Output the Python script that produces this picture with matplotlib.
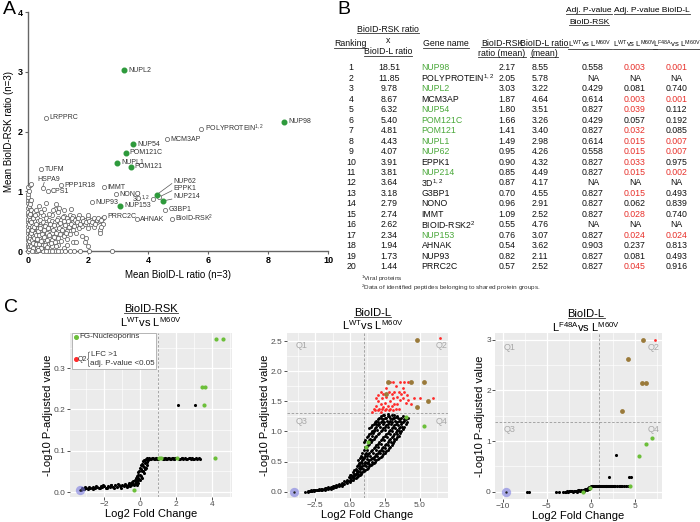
import matplotlib.pyplot as plt
from matplotlib.lines import Line2D
from matplotlib.patches import Rectangle

plt.rcParams['font.family'] = ['Liberation Sans', 'DejaVu Sans']
plt.rcParams['mathtext.fontset'] = 'custom'
plt.rcParams['mathtext.rm'] = 'Liberation Sans'
plt.rcParams['mathtext.it'] = 'Liberation Sans:italic'
plt.rcParams['mathtext.bf'] = 'Liberation Sans:bold'

NARROW = ['Liberation Sans Narrow', 'Liberation Sans', 'DejaVu Sans']

# ---------------- Panel A data ----------------
cloud = [
    (0.02, 0.0), (0.02, 0.06), (0.02, 0.12), (0.02, 0.18), (0.02, 0.24), (0.02, 0.3), (0.02, 0.36),
    (0.02, 0.42), (0.02, 0.48), (0.02, 0.54), (0.02, 0.6), (0.02, 0.66), (0.02, 0.72), (0.02, 0.8),
    (0.02, 0.86), (0.02, 0.9), (0.02, 1.08),
    (0.06, 0.03), (0.06, 0.1), (0.06, 0.2), (0.06, 0.3), (0.06, 0.4), (0.06, 0.5), (0.06, 0.62),
    (0.06, 0.7), (0.06, 0.83), (0.06, 1.1),
    (0.1, 0.05), (0.1, 0.15), (0.1, 0.25), (0.1, 0.35), (0.1, 0.45), (0.1, 0.55), (0.1, 0.68), (0.12, 1.12),
    (0.15, 0.02), (0.15, 0.12), (0.15, 0.22), (0.15, 0.32), (0.15, 0.42), (0.15, 0.52), (0.15, 0.6),
    (0.2, 0.07), (0.2, 0.17), (0.2, 0.27), (0.2, 0.37), (0.2, 0.47), (0.2, 0.58), (0.2, 0.66),
    (0.25, 0.0), (0.25, 0.1), (0.25, 0.2), (0.25, 0.3), (0.25, 0.4), (0.25, 0.5),
    (0.3, 0.05), (0.3, 0.15), (0.3, 0.25), (0.3, 0.35), (0.3, 0.45), (0.3, 0.55), (0.3, 0.62),
    (0.35, 0.08), (0.35, 0.18), (0.35, 0.28), (0.35, 0.38), (0.35, 0.5), (0.38, 0.75),
    (0.4, 0.02), (0.4, 0.12), (0.4, 0.22), (0.4, 0.32), (0.4, 0.42), (0.4, 0.52),
    (0.5, 0.0), (0.5, 0.1), (0.5, 0.2), (0.5, 0.3), (0.5, 0.4), (0.5, 0.48), (0.5, 0.6),
    (0.6, 0.05), (0.6, 0.15), (0.6, 0.25), (0.6, 0.35), (0.6, 0.45), (0.6, 0.55), (0.62, 0.8),
    (0.7, 0.0), (0.7, 0.12), (0.7, 0.22), (0.7, 0.32), (0.7, 0.42), (0.7, 0.52),
    (0.8, 0.08), (0.8, 0.18), (0.8, 0.3), (0.8, 0.4), (0.8, 0.5), (0.8, 0.6),
    (0.9, 0.0), (0.9, 0.15), (0.9, 0.25), (0.9, 0.38), (0.9, 0.48), (0.9, 0.7), (0.95, 0.78),
    (1.0, 0.1), (1.0, 0.22), (1.0, 0.34), (1.0, 0.44), (1.0, 0.56), (1.0, 0.65),
    (1.1, 0.0), (1.1, 0.16), (1.1, 0.3), (1.1, 0.42), (1.1, 0.52),
    (1.2, 0.05), (1.2, 0.25), (1.2, 0.38), (1.2, 0.5), (1.2, 0.58),
    (1.3, 0.2), (1.3, 0.33), (1.3, 0.45), (1.3, 0.55),
    (1.4, 0.0), (1.4, 0.28), (1.4, 0.4), (1.4, 0.52), (1.4, 0.6), (1.45, 0.7),
    (1.5, 0.15), (1.5, 0.36), (1.5, 0.48), (1.5, 0.58),
    (1.6, 0.3), (1.6, 0.44), (1.6, 0.54),
    (1.75, 0.0), (1.7, 0.38), (1.7, 0.5), (1.7, 0.6),
    (1.8, 0.25), (1.8, 0.42), (1.8, 0.55),
    (1.9, 0.15), (1.9, 0.45), (1.9, 0.52),
    (2.05, 0.0), (2.0, 0.08), (2.0, 0.38), (2.0, 0.55), (2.0, 0.6),
    (2.1, 0.45), (2.1, 0.52), (2.2, 0.4), (2.2, 0.55), (2.3, 0.48), (2.3, 0.52),
    (2.4, 0.35), (2.4, 0.5), (2.5, 0.45), (2.5, 0.55), (2.8, 0.0),
    (0.03, 0.03), (0.05, 0.08), (0.08, 0.12), (0.04, 0.16), (0.12, 0.09), (0.09, 0.21), (0.13, 0.18),
    (0.07, 0.27), (0.16, 0.25), (0.11, 0.31), (0.18, 0.14), (0.21, 0.22), (0.14, 0.36), (0.23, 0.31),
    (0.17, 0.05), (0.26, 0.12), (0.28, 0.27), (0.22, 0.4), (0.31, 0.2), (0.33, 0.33), (0.27, 0.45),
    (0.36, 0.11), (0.38, 0.26), (0.42, 0.38), (0.45, 0.17), (0.44, 0.05), (0.47, 0.29), (0.53, 0.35),
    (0.55, 0.24), (0.58, 0.42), (0.56, 0.1), (0.63, 0.3), (0.65, 0.19), (0.68, 0.38), (0.72, 0.27),
    (0.75, 0.45), (0.77, 0.14), (0.83, 0.35), (0.86, 0.24), (0.88, 0.44), (0.93, 0.3), (0.97, 0.52),
    (1.03, 0.38), (1.06, 0.28), (1.08, 0.47), (1.15, 0.35), (1.17, 0.57), (1.23, 0.44), (1.27, 0.3),
    (1.33, 0.5), (1.36, 0.4), (1.44, 0.45), (1.47, 0.55), (1.55, 0.42), (1.57, 0.52), (1.65, 0.48),
    (1.68, 0.56), (1.75, 0.45), (1.85, 0.5), (1.95, 0.48), (2.05, 0.5), (2.15, 0.48), (2.25, 0.45),
    (2.35, 0.55), (2.45, 0.52), (0.04, 0.45), (0.08, 0.52), (0.05, 0.58), (0.09, 0.62), (0.12, 0.48),
    (0.03, 0.75), (0.07, 0.78), (0.1, 0.85), (0.19, 0.55), (0.24, 0.6), (0.29, 0.68), (0.45, 0.65),
    (0.55, 0.7), (0.7, 0.62), (0.85, 0.68), (1.05, 0.72), (1.2, 0.68), (0.02, 0.95), (0.05, 1.0),
    (0.3, 0.0), (0.6, 0.0), (0.8, 0.0), (1.0, 0.0), (1.25, 0.0), (1.55, 0.0), (0.15, 0.0),
    (0.35, 0.02), (0.65, 0.06), (0.95, 0.08), (1.3, 0.1), (1.6, 0.15), (1.95, 0.22), (2.4, 0.3),
    (2.45, 0.4),
]

open_names = ["LRPPRC", "POLYPROTEIN$^{1,2}$", "MCM3AP", "TUFM", "PPP1R18", "CPS1", "IMMT",
              "NONO", "NUP93", "G3BP1", "PRRC2C", "AHNAK", "BioID-RSK$^{2}$"]
open_x = [0.6, 5.78, 4.64, 0.44, 1.11, 0.66, 2.54, 2.93, 2.13, 4.58, 2.54, 3.63, 4.80]
open_y = [2.23, 2.05, 1.87, 1.37, 1.10, 1.00, 1.07, 0.955, 0.82, 0.69, 0.57, 0.53, 0.54]

green_names = ["NUPL2", "NUP98", "NUP54", "POM121C", "NUPL1", "POM121", "NUP153"]
green_x = [3.22, 8.55, 3.52, 3.28, 2.99, 3.43, 3.09]
green_y = [3.03, 2.17, 1.79, 1.65, 1.48, 1.41, 0.76]

# points with labels connected by a line
lead_names = ["NUP62", "EPPK1", "NUP214"]
lead_x = [4.30, 4.36, 4.52]
lead_y = [0.945, 0.90, 0.84]
lead_green = [True, False, True]

# ---------------- Panel B data ----------------
ranking = list(range(1, 21))
product = ["18.51", "11.85", "9.78", "8.67", "6.32", "5.40", "4.81", "4.43", "4.07", "3.91",
           "3.81", "3.64", "3.18", "2.79", "2.74", "2.62", "2.34", "1.94", "1.73", "1.44"]
genes = ["NUP98", "POLYPROTEIN$^{1,2}$", "NUPL2", "MCM3AP", "NUP54", "POM121C", "POM121", "NUPL1",
         "NUP62", "EPPK1", "NUP214", "3D$^{1,2}$", "G3BP1", "NONO", "IMMT", "BIOID-RSK2$^{2}$",
         "NUP153", "AHNAK", "NUP93", "PRRC2C"]
fg_nups = {"NUP98", "NUPL2", "NUP54", "POM121C", "POM121", "NUPL1", "NUP62", "NUP214", "NUP153"}
rsk_mean = ["2.17", "2.05", "3.03", "1.87", "1.80", "1.66", "1.41", "1.49", "0.95", "0.90",
            "0.85", "0.87", "0.70", "0.96", "1.09", "0.55", "0.76", "0.54", "0.82", "0.57"]
l_mean = ["8.55", "5.78", "3.22", "4.64", "3.51", "3.26", "3.40", "2.98", "4.26", "4.32",
          "4.49", "4.17", "4.55", "2.91", "2.52", "4.76", "3.07", "3.62", "2.11", "2.52"]
p_rsk = ["0.558", "NA", "0.429", "0.614", "0.827", "0.429", "0.827", "0.614", "0.558", "0.827",
         "0.827", "NA", "0.827", "0.827", "0.827", "NA", "0.827", "0.903", "0.827", "0.827"]
p_lwt = ["0.003", "NA", "0.081", "0.003", "0.039", "0.057", "0.032", "0.015", "0.015", "0.033",
         "0.015", "NA", "0.015", "0.062", "0.028", "NA", "0.024", "0.237", "0.081", "0.045"]
p_f48a = ["0.001", "NA", "0.740", "0.001", "0.112", "0.192", "0.085", "0.007", "0.007", "0.975",
          "0.002", "NA", "0.493", "0.839", "0.740", "NA", "0.024", "0.813", "0.493", "0.916"]

# ---------------- Panel C data ----------------
c1_black = [
    (-3.3, 0.006), (-3.2, 0.008), (-3.1, 0.007), (-3.0, 0.010), (-2.9, 0.008), (-2.8, 0.011),
    (-2.7, 0.009), (-2.6, 0.012), (-2.5, 0.010), (-2.4, 0.013), (-2.3, 0.011), (-2.2, 0.014),
    (-2.1, 0.012), (-2.0, 0.014), (-1.9, 0.011), (-1.8, 0.015), (-1.7, 0.012), (-1.6, 0.016),
    (-1.5, 0.013), (-1.4, 0.016), (-1.3, 0.012), (-1.2, 0.017), (-1.1, 0.014), (-1.0, 0.017),
    (-0.9, 0.015), (-0.8, 0.018), (-0.7, 0.015), (-0.6, 0.019), (-0.5, 0.017), (-0.5, 0.022),
    (-0.4, 0.020), (-0.4, 0.026), (-0.3, 0.020), (-0.3, 0.028), (-0.2, 0.018), (-0.2, 0.030),
    (-0.2, 0.040), (-0.1, 0.022), (-0.1, 0.035), (-0.1, 0.048), (0.0, 0.028), (0.0, 0.042),
    (0.0, 0.058), (0.05, 0.065), (0.1, 0.035), (0.1, 0.05), (0.1, 0.068), (0.15, 0.075),
    (0.2, 0.045), (0.2, 0.06), (0.2, 0.078), (0.25, 0.07), (0.3, 0.058), (0.3, 0.08),
    (0.35, 0.072), (0.4, 0.08), (0.45, 0.078), (0.5, 0.082), (0.6, 0.08), (0.7, 0.082),
    (0.8, 0.08), (0.9, 0.082), (1.0, 0.079), (1.2, 0.082), (1.3, 0.08), (1.4, 0.082),
    (1.5, 0.08), (1.6, 0.082), (1.7, 0.08), (1.8, 0.082), (1.9, 0.08), (2.0, 0.082),
    (2.2, 0.08), (2.3, 0.082), (2.4, 0.08), (2.5, 0.082), (2.6, 0.08), (2.7, 0.082),
    (2.8, 0.08), (2.9, 0.082), (3.0, 0.08), (3.1, 0.082), (3.3, 0.081),
    (2.1, 0.212), (3.05, 0.212),
    (-3.25, 0.01), (-3.05, 0.012), (-2.85, 0.013), (-2.65, 0.008), (-2.45, 0.015), (-2.25, 0.009),
    (-2.05, 0.016), (-1.85, 0.01), (-1.65, 0.018), (-1.45, 0.01), (-1.25, 0.019), (-1.05, 0.011),
    (-0.85, 0.02), (-0.75, 0.012), (-0.65, 0.022), (-0.55, 0.014), (-0.45, 0.024), (-0.35, 0.017),
    (-0.25, 0.024), (-0.25, 0.034), (-0.15, 0.028), (-0.15, 0.042), (-0.05, 0.032), (-0.05, 0.052),
    (0.05, 0.04), (0.05, 0.055), (0.15, 0.05), (0.15, 0.064), (0.25, 0.055), (0.25, 0.078),
    (0.35, 0.066), (0.38, 0.082), (0.55, 0.079), (0.65, 0.083), (0.75, 0.079), (0.85, 0.083),
    (0.95, 0.081), (1.25, 0.079), (1.35, 0.083), (1.45, 0.079), (1.55, 0.083), (1.65, 0.079),
    (1.75, 0.083), (1.85, 0.079), (1.95, 0.083), (2.15, 0.079), (2.35, 0.083), (2.55, 0.079),
    (2.75, 0.083), (2.95, 0.079), (3.15, 0.08), (3.25, 0.083),
]
c1_green = [(4.2, 0.37), (4.6, 0.37), (3.42, 0.255), (3.58, 0.255), (3.55, 0.212),
            (4.15, 0.082), (2.05, 0.082), (1.15, 0.082), (1.05, 0.082), (-0.35, 0.005)]
c1_blue = (-3.35, 0.004)

c2_black = [
    (-3.2, 0.0), (-3.0, 0.0), (-3.0, 0.01), (-2.8, 0.01), (-2.8, 0.02), (-2.6, 0.01), (-2.6, 0.03),
    (-2.4, 0.02), (-2.4, 0.03), (-2.2, 0.02), (-2.2, 0.04), (-2.0, 0.03), (-2.0, 0.05),
    (-1.8, 0.03), (-1.8, 0.06), (-1.6, 0.04), (-1.6, 0.07), (-1.4, 0.05), (-1.4, 0.08),
    (-1.2, 0.06), (-1.2, 0.10), (-1.0, 0.07), (-1.0, 0.11), (-0.8, 0.09), (-0.8, 0.13),
    (-0.6, 0.10), (-0.6, 0.15), (-0.4, 0.12), (-0.4, 0.18), (-0.2, 0.14), (-0.2, 0.20),
    (0.0, 0.16), (0.0, 0.22), (0.0, 0.28), (0.2, 0.19), (0.2, 0.26), (0.2, 0.33),
    (0.4, 0.22), (0.4, 0.30), (0.4, 0.38), (0.6, 0.26), (0.6, 0.34), (0.6, 0.44), (0.6, 0.52),
    (0.8, 0.30), (0.8, 0.40), (0.8, 0.50), (0.8, 0.60),
    (1.0, 0.34), (1.0, 0.44), (1.0, 0.56), (1.0, 0.70), (1.0, 0.82),
    (1.2, 0.38), (1.2, 0.48), (1.2, 0.60), (1.2, 0.76), (1.2, 0.90),
    (1.4, 0.42), (1.4, 0.52), (1.4, 0.64), (1.4, 0.80), (1.4, 0.95), (1.4, 1.05),
    (1.6, 0.46), (1.6, 0.56), (1.6, 0.70), (1.6, 0.85), (1.6, 1.00), (1.6, 1.10),
    (1.8, 0.50), (1.8, 0.60), (1.8, 0.75), (1.8, 0.90), (1.8, 1.05), (1.8, 1.15),
    (2.0, 0.54), (2.0, 0.65), (2.0, 0.80), (2.0, 0.95), (2.0, 1.10), (2.0, 1.20),
    (2.2, 0.58), (2.2, 0.70), (2.2, 0.85), (2.2, 1.00), (2.2, 1.15), (2.2, 1.25),
    (2.4, 0.63), (2.4, 0.75), (2.4, 0.90), (2.4, 1.05), (2.4, 1.20), (2.4, 1.27),
    (2.6, 0.68), (2.6, 0.80), (2.6, 0.95), (2.6, 1.10), (2.6, 1.22),
    (2.8, 0.73), (2.8, 0.85), (2.8, 1.00), (2.8, 1.15), (2.8, 1.25),
    (3.0, 0.78), (3.0, 0.90), (3.0, 1.05), (3.0, 1.20), (3.0, 1.27),
    (3.2, 0.84), (3.2, 0.96), (3.2, 1.10), (3.2, 1.22),
    (3.4, 0.90), (3.4, 1.02), (3.4, 1.15), (3.4, 1.25),
    (3.6, 0.97), (3.6, 1.08), (3.6, 1.20), (3.8, 1.04), (3.8, 1.15), (3.8, 1.25),
    (4.0, 1.12), (4.0, 1.20),
    (-2.9, 0.005), (-2.7, 0.015), (-2.5, 0.02), (-2.3, 0.03), (-2.1, 0.035), (-1.9, 0.045),
    (-1.7, 0.05), (-1.5, 0.06), (-1.3, 0.075), (-1.1, 0.085), (-0.9, 0.1), (-0.7, 0.115),
    (-0.5, 0.135), (-0.3, 0.16), (-0.1, 0.18), (-0.1, 0.24), (0.1, 0.2), (0.1, 0.27),
    (0.3, 0.22), (0.3, 0.3), (0.3, 0.36), (0.5, 0.25), (0.5, 0.33), (0.5, 0.42),
    (0.7, 0.28), (0.7, 0.37), (0.7, 0.47), (0.7, 0.56), (0.9, 0.32), (0.9, 0.42), (0.9, 0.53),
    (0.9, 0.65), (1.1, 0.36), (1.1, 0.47), (1.1, 0.6), (1.1, 0.74), (1.1, 0.86),
    (1.3, 0.4), (1.3, 0.5), (1.3, 0.63), (1.3, 0.78), (1.3, 0.93),
    (1.5, 0.44), (1.5, 0.55), (1.5, 0.68), (1.5, 0.83), (1.5, 0.98), (1.5, 1.08),
    (1.7, 0.48), (1.7, 0.58), (1.7, 0.72), (1.7, 0.88), (1.7, 1.03), (1.7, 1.12),
    (1.9, 0.52), (1.9, 0.63), (1.9, 0.78), (1.9, 0.93), (1.9, 1.08), (1.9, 1.18),
    (2.1, 0.56), (2.1, 0.68), (2.1, 0.83), (2.1, 0.98), (2.1, 1.13), (2.1, 1.22),
    (2.3, 0.6), (2.3, 0.72), (2.3, 0.88), (2.3, 1.03), (2.3, 1.18),
    (2.5, 0.65), (2.5, 0.78), (2.5, 0.93), (2.5, 1.08), (2.5, 1.23),
    (2.7, 0.7), (2.7, 0.83), (2.7, 0.98), (2.7, 1.13), (2.7, 1.26),
    (2.9, 0.75), (2.9, 0.88), (2.9, 1.03), (2.9, 1.18), (3.1, 0.81), (3.1, 0.93), (3.1, 1.08),
    (3.1, 1.22), (3.3, 0.87), (3.3, 0.99), (3.3, 1.12), (3.3, 1.24), (3.5, 0.93), (3.5, 1.05),
    (3.5, 1.18), (3.7, 1.0), (3.7, 1.12), (3.7, 1.22), (3.9, 1.08), (3.9, 1.18),
    (0.55, 0.3), (0.65, 0.4), (0.75, 0.33), (0.85, 0.47), (0.95, 0.38), (1.05, 0.5), (1.15, 0.42),
    (1.25, 0.55), (1.35, 0.46), (1.45, 0.6), (1.55, 0.5), (1.65, 0.65), (1.75, 0.55), (1.85, 0.7),
    (1.95, 0.6), (2.05, 0.75), (2.15, 0.64), (2.25, 0.8), (2.35, 0.68), (2.45, 0.85), (2.55, 0.72),
    (2.65, 0.9), (2.75, 0.78), (2.85, 0.95), (2.95, 0.82), (3.05, 1.0), (3.15, 0.88), (3.25, 1.05),
    (3.35, 0.95), (3.45, 1.1), (3.55, 1.0), (3.65, 1.15), (3.75, 1.08), (3.85, 1.2), (4.1, 1.16),
    (4.2, 1.22), (1.45, 0.88), (1.55, 0.93), (1.65, 0.97), (1.75, 1.0), (1.85, 1.12), (1.95, 1.02),
    (2.05, 1.15), (2.15, 1.08), (2.25, 1.22), (2.35, 1.12), (2.45, 1.16), (2.55, 1.02), (2.65, 1.18),
    (2.75, 1.08), (2.85, 1.22), (2.95, 1.12), (3.05, 1.15), (3.15, 1.27), (3.25, 1.18), (3.45, 1.22),
    (2.45, 1.28), (2.75, 1.29), (1.25, 0.7), (1.35, 0.85), (1.15, 0.65), (1.05, 0.62), (0.95, 0.55),
    (0.85, 0.58), (0.75, 0.42), (0.65, 0.48), (-2.95, 0.005), (-2.65, 0.02), (-2.35, 0.025),
    (-2.05, 0.04), (-1.75, 0.055), (-1.45, 0.065), (-1.15, 0.09), (-0.85, 0.11), (-0.55, 0.125),
    (-0.25, 0.17), (0.05, 0.19), (0.15, 0.24), (0.25, 0.25), (0.35, 0.27), (0.45, 0.3), (0.45, 0.36),
]
c2_red = [
    (1.6, 1.33), (1.7, 1.38), (1.8, 1.35), (1.9, 1.42), (2.0, 1.36), (2.0, 1.50), (2.1, 1.38),
    (2.2, 1.45), (2.2, 1.33), (2.3, 1.55), (2.3, 1.38), (2.4, 1.40), (2.4, 1.62), (2.5, 1.35),
    (2.5, 1.48), (2.6, 1.58), (2.6, 1.38), (2.7, 1.43), (2.8, 1.36), (2.8, 1.65), (2.9, 1.50),
    (2.9, 1.38), (3.0, 1.42), (3.0, 1.62), (3.1, 1.55), (3.1, 1.36), (3.2, 1.45), (3.2, 1.65),
    (3.3, 1.38), (3.4, 1.58), (3.4, 1.45), (3.5, 1.65), (3.5, 1.38), (3.6, 1.52), (3.7, 1.62),
    (3.8, 1.55), (3.9, 1.65), (4.0, 1.48), (4.1, 1.60), (4.2, 1.52), (4.4, 1.45), (4.6, 1.55),
    (5.0, 1.55), (6.0, 1.56), (6.5, 2.55), (2.9, 1.82), (3.1, 1.82), (3.6, 1.82), (3.9, 1.82),
    (4.2, 1.82), (2.0, 1.60), (1.9, 1.55), (2.6, 1.72), (3.3, 1.75), (3.8, 1.72), (2.2, 1.65),
]
c2_olive = [(4.8, 2.52), (2.7, 1.82), (4.4, 1.82), (5.3, 1.82), (2.6, 1.62), (5.6, 1.50), (4.8, 1.41)]
c2_green = [(4.0, 1.24), (5.3, 1.09), (1.3, 0.82), (1.15, 0.75)]
c2_blue = (-4.0, 0.0)

c3_black = [
    (-7.3, 0.0), (-7.0, 0.0), (-3.9, 0.0), (-3.6, 0.0), (-3.1, 0.0), (-2.9, 0.0), (-2.7, 0.005),
    (-2.5, 0.005), (-2.3, 0.01), (-2.1, 0.01), (-1.9, 0.015), (-1.7, 0.02), (-1.5, 0.025),
    (-1.3, 0.03), (-1.1, 0.035), (-0.9, 0.04), (-0.7, 0.05), (-0.5, 0.06), (-0.3, 0.08),
    (-0.1, 0.10), (-2.0, -0.005), (-1.6, 0.0), (-1.2, 0.005), (-0.8, 0.015), (-0.4, 0.03),
    (-0.2, 0.06), (0.1, 0.12), (0.3, 0.12), (0.5, 0.12), (0.7, 0.12), (0.9, 0.12), (1.1, 0.12),
    (1.3, 0.12), (1.5, 0.12), (1.7, 0.12), (1.9, 0.12), (2.1, 0.12), (2.3, 0.12), (2.5, 0.12),
    (2.7, 0.12), (3.0, 0.12), (3.3, 0.12), (3.6, 0.12), (4.0, 0.12),
    (2.9, 0.72), (2.1, 0.29), (4.4, 0.29), (4.6, 0.29),
    (-2.8, 0.0), (-2.6, 0.0), (-2.4, 0.005), (-2.2, 0.005), (-1.8, 0.01), (-1.4, 0.015),
    (-1.0, 0.02), (-0.6, 0.035), (-0.2, 0.085), (0.0, 0.11), (0.2, 0.12), (0.4, 0.12),
    (0.6, 0.12), (0.8, 0.12), (1.0, 0.12), (1.2, 0.12), (1.4, 0.12), (1.6, 0.12), (1.8, 0.12),
    (2.0, 0.12), (2.2, 0.12), (2.4, 0.12), (2.6, 0.12), (2.8, 0.12), (3.2, 0.12), (3.5, 0.12),
    (3.8, 0.12), (4.2, 0.12),
]
c3_olive = [(6.0, 3.0), (4.2, 2.62), (5.9, 2.15), (6.3, 2.15), (3.6, 1.6)]
c3_red = [(7.3, 3.0)]
c3_green = [(7.0, 1.07), (6.3, 0.95), (5.5, 0.71), (4.5, 0.11), (-0.1, 0.07), (-0.85, 0.0)]
c3_blue = (-9.7, 0.0)

W, H = 700, 522
fig = plt.figure(figsize=(7, 5.22), dpi=100)
underlined = []


def box(l, t, r, b):
    return fig.add_axes([l / W, 1 - b / H, (r - l) / W, (b - t) / H])


def ftext(x, y, s, **kw):
    kw.setdefault('va', 'center')
    return fig.text(x / W, 1 - y / H, s, **kw)


GREEN_A = '#2e9a3c'
GREEN_T = '#4aa83a'
RED_T = '#e8302a'

# ================= Panel A =================
ax = box(27.7, 12.3, 328, 251)
ax.set_xlim(0, 10)
ax.set_ylim(0, 4)
for s in ['top', 'right']:
    ax.spines[s].set_visible(False)
for s in ['left', 'bottom']:
    ax.spines[s].set_color('#666666')
    ax.spines[s].set_linewidth(1.0)
ax.set_xticks([0, 2, 4, 6, 8, 10])
ax.set_yticks([0, 1, 2, 3, 4])
ax.tick_params(length=2.5, width=0.8, color='#666666', pad=1, labelsize=6.5)
for lab in ax.get_xticklabels() + ax.get_yticklabels():
    lab.set_fontweight('bold')
ax.set_xlabel('Mean BioID-L ratio (n=3)', fontsize=7, labelpad=4)
ax.set_ylabel('Mean BioID-RSK ratio (n=3)', fontsize=7, labelpad=3)

cx = [p[0] for p in cloud]
cy = [p[1] for p in cloud]
ax.scatter(cx, cy, s=9, facecolors='white', edgecolors='#555555', linewidths=0.5, clip_on=False, zorder=3)
ax.scatter(open_x, open_y, s=9, facecolors='white', edgecolors='#555555', linewidths=0.5, zorder=3)
ax.scatter(green_x, green_y, s=11, color=GREEN_A, zorder=4)
ax.scatter([x for x, g in zip(lead_x, lead_green) if g], [y for y, g in zip(lead_y, lead_green) if g],
           s=11, color=GREEN_A, zorder=4)
ax.scatter([x for x, g in zip(lead_x, lead_green) if not g], [y for y, g in zip(lead_y, lead_green) if not g],
           s=9, facecolors='white', edgecolors='#555555', linewidths=0.5, zorder=3)
ax.scatter([4.18, 0.5], [0.866, 1.06], s=9, facecolors='white', edgecolors='#555555', linewidths=0.5, zorder=3)

lab_kw = dict(fontsize=5, color='#333333', va='center', ha='left')
for n, x, y in zip(open_names + green_names, open_x + green_x, open_y + green_y):
    ax.text(x + 0.12, y, n, **lab_kw)
ax.text(4.08, 0.87, '3D$^{1,2}$', fontsize=5, color='#333333', va='center', ha='right')
ax.text(0.33, 1.2, 'HSPA9', **lab_kw)
ax.plot([0.55, 0.5], [1.15, 1.07], color='#555555', lw=0.5)
lead_tx = [4.85, 4.85, 4.85]
lead_ty = [1.17, 1.05, 0.91]
for n, x, y, tx, ty in zip(lead_names, lead_x, lead_y, lead_tx, lead_ty):
    ax.plot([x, tx - 0.05], [y, ty - 0.04], color='#555555', lw=0.5, zorder=2)
    ax.text(tx, ty, n, **lab_kw)

ftext(3, 9, 'A', fontsize=14)
ftext(337, 10, 'B', fontsize=14)
ftext(4, 307, 'C', fontsize=14)

# ================= Panel B (table) =================
tf = dict(fontsize=6.3, family=NARROW, ha='center', color='#111111')
hf = dict(fontsize=5.6, family=NARROW, ha='center', color='#111111')
underlined.append(ftext(388, 29, 'BioID-RSK ratio', **tf))
ftext(388, 40.5, 'x', **tf)
underlined.append(ftext(388, 52, 'BioID-L ratio', **tf))
underlined.append(ftext(350, 44, 'Ranking', **tf))
underlined.append(ftext(446, 44, 'Gene name', **tf))
underlined.append(ftext(502, 43, 'BioID-RSK', **tf))
underlined.append(ftext(502, 53, 'ratio (mean)', **tf))
underlined.append(ftext(544, 43, 'BioID-L ratio', **tf))
underlined.append(ftext(544, 53, '(mean)', **tf))
underlined.append(ftext(589, 11, 'Adj. P-value', fontsize=6, family=NARROW, ha='center'))
underlined.append(ftext(589, 22, 'BioID-RSK', fontsize=6, family=NARROW, ha='center'))
underlined.append(ftext(652, 11, 'Adj. P-value BioID-L', fontsize=6, family=NARROW, ha='center'))
underlined.append(ftext(590, 44, r'L$^{\mathrm{WT}}$vs L$^{\mathrm{M60V}}$', **hf))
underlined.append(ftext(635, 44, r'L$^{\mathrm{WT}}$vs L$^{\mathrm{M60V}}$', **hf))
underlined.append(ftext(677, 44, r'L$^{\mathrm{F48A}}$vs L$^{\mathrm{M60V}}$', **hf))

row0, dy = 67.9, 10.46


def pcol(v):
    return RED_T if v != 'NA' and float(v) < 0.05 else '#111111'


for i in range(20):
    y = row0 + i * dy
    ftext(351, y, str(ranking[i]), **tf)
    ftext(389, y, product[i], **tf)
    g = genes[i]
    ftext(421.5, y, g, fontsize=6.3, family=NARROW, ha='left',
          color=GREEN_T if g in fg_nups else '#111111')
    ftext(507, y, rsk_mean[i], **tf)
    ftext(540, y, l_mean[i], **tf)
    ftext(593, y, p_rsk[i], fontsize=6.3, family=NARROW, ha='center', color=pcol(p_rsk[i]))
    ftext(635, y, p_lwt[i], fontsize=6.3, family=NARROW, ha='center', color=pcol(p_lwt[i]))
    ftext(676.5, y, p_f48a[i], fontsize=6.3, family=NARROW, ha='center', color=pcol(p_f48a[i]))

ftext(361, 278.5, '$^{1}$Viral proteins', fontsize=4.6, color='#333333', ha='left')
ftext(361, 287.5, '$^{2}$Data of identified peptides belonging to shared protein groups.',
      fontsize=4.6, color='#333333', ha='left')


# ================= Panel C =================
def volcano(rect, xlim, ylim, xmaj, xmin, ymaj, ymin, yfmt, hline):
    a = box(*rect)
    a.set_facecolor('#ebebeb')
    a.set_xlim(*xlim)
    a.set_ylim(*ylim)
    a.set_xticks(xmaj)
    a.set_xticks(xmin, minor=True)
    a.set_yticks(ymaj)
    a.set_yticks(ymin, minor=True)
    a.set_yticklabels([yfmt.format(v) for v in ymaj])
    a.grid(which='major', color='white', lw=0.9)
    a.grid(which='minor', color='white', lw=0.45)
    a.set_axisbelow(True)
    for s in a.spines.values():
        s.set_visible(False)
    a.tick_params(which='major', length=2, width=0.6, color='#333333', labelsize=6, labelcolor='#4d4d4d', pad=1)
    a.tick_params(which='minor', length=0)
    a.axvline(1, color='#999999', lw=0.6, ls=(0, (3, 2)), zorder=1.5)
    if hline is not None:
        a.axhline(hline, color='#999999', lw=0.6, ls=(0, (3, 2)), zorder=1.5)
    a.set_xlabel('Log2 Fold Change', fontsize=8, labelpad=0.5)
    a.set_ylabel('-Log10 P-adjusted value', fontsize=8, labelpad=0.5)
    return a


def pts(a, data, **kw):
    a.scatter([p[0] for p in data], [p[1] for p in data], linewidths=0, **kw)


def blue(a, p):
    a.scatter([p[0]], [p[1]], s=45, color='#7b7be0', alpha=0.6, linewidths=0, zorder=5, clip_on=False)
    a.scatter([p[0]], [p[1]], s=3, color='#222222', linewidths=0, zorder=6, clip_on=False)


GREEN_C = '#6cbf3a'
OLIVE_C = '#9a7a3a'
RED_C = '#ff2a2a'

# C1
a1 = volcano((70, 332.7, 232, 497), (-3.9, 5.1), (-0.012, 0.386), [-2, 0, 2, 4], [-3, -1, 1, 3, 5],
             [0, 0.1, 0.2, 0.3], [0.05, 0.15, 0.25, 0.35], '{:.1f}', None)
pts(a1, c1_black, s=5, color='black', zorder=3)
pts(a1, c1_green, s=9, color=GREEN_C, zorder=4)
blue(a1, c1_blue)
underlined.append(ftext(151, 309, 'BioID-RSK', fontsize=8, ha='center'))
ftext(151, 322, r'L$^{\mathrm{WT}}$vs L$^{\mathrm{M60V}}$', fontsize=8, ha='center')

# legend of C1
fig.add_artist(Rectangle((72 / W, 1 - 368.5 / H), 84 / W, 36 / H, transform=fig.transFigure,
                         facecolor='white', edgecolor='#aaaaaa', lw=0.6, zorder=7))
fig.add_artist(Line2D([75.7 / W], [1 - 336.7 / H], marker='o', ms=2.6, color=GREEN_C, lw=0, zorder=8))
ftext(79.5, 337, 'FG-Nucleoporins', fontsize=5.8, ha='left', color='#333333', zorder=8)
fig.add_artist(Line2D([75.7 / W], [1 - 359.3 / H], marker='o', ms=2.6, color=RED_C, lw=0, zorder=8))
ftext(77.6, 359.5, 'Q2', fontsize=5, ha='left', color='#333333', zorder=8)
fig.add_artist(Line2D([89.6 / W, 88.4 / W, 88.4 / W, 87.2 / W, 88.4 / W, 88.4 / W, 89.6 / W],
                      [1 - 352 / H, 1 - 352.6 / H, 1 - 358.6 / H, 1 - 359.3 / H, 1 - 360 / H,
                       1 - 366 / H, 1 - 366.6 / H],
                      color='#555555', lw=0.5, zorder=8))
ftext(90.8, 354.3, 'LFC >1', fontsize=5.8, ha='left', color='#333333', zorder=8)
ftext(90, 363.6, 'adj. P-value <0.05', fontsize=5.8, ha='left', color='#333333', zorder=8)

# C2
a2 = volcano((286.7, 332.7, 448.3, 498.3), (-4.55, 7.07), (-0.11, 2.64), [-2.5, 0, 2.5, 5],
             [-3.75, -1.25, 1.25, 3.75, 6.25], [0, 0.5, 1, 1.5, 2, 2.5], [0.25, 0.75, 1.25, 1.75, 2.25],
             '{:.1f}', 1.3)
pts(a2, c2_black, s=4.5, color='black', zorder=3)
pts(a2, c2_red, s=4, color=RED_C, zorder=3)
pts(a2, c2_green, s=9, color=GREEN_C, zorder=4)
pts(a2, c2_olive, s=12, color=OLIVE_C, zorder=4)
blue(a2, c2_blue)
underlined.append(ftext(373, 313, 'BioID-L', fontsize=8, ha='center'))
ftext(373, 325, r'L$^{\mathrm{WT}}$vs L$^{\mathrm{M60V}}$', fontsize=8, ha='center')
qkw = dict(fontsize=6.5, color='#a8a8a8')
ftext(296, 345, 'Q1', ha='left', **qkw)
ftext(447, 345, 'Q2', ha='right', **qkw)
ftext(296, 421, 'Q3', ha='left', **qkw)
ftext(447, 421, 'Q4', ha='right', **qkw)

# C3
a3 = volcano((495, 332.7, 661.7, 499.3), (-10.9, 8.09), (-0.15, 3.14), [-10, -5, 0, 5],
             [-7.5, -2.5, 2.5, 7.5], [0, 1, 2, 3], [0.5, 1.5, 2.5], '{:.0f}', 1.37)
pts(a3, c3_black, s=5, color='black', zorder=3)
pts(a3, c3_red, s=4, color=RED_C, zorder=3)
pts(a3, c3_green, s=9, color=GREEN_C, zorder=4)
pts(a3, c3_olive, s=12, color=OLIVE_C, zorder=4)
blue(a3, c3_blue)
underlined.append(ftext(586, 314, 'BioID-L', fontsize=8, ha='center'))
ftext(586, 327, r'L$^{\mathrm{F48A}}$vs L$^{\mathrm{M60V}}$', fontsize=8, ha='center')
ftext(504, 347, 'Q1', ha='left', **qkw)
ftext(660, 347, 'Q2', ha='right', **qkw)
ftext(504, 430, 'Q3', ha='left', **qkw)
ftext(660, 430, 'Q4', ha='right', **qkw)

# underline header texts
fig.canvas.draw()
r = fig.canvas.get_renderer()
for t in underlined:
    bb = t.get_window_extent(r).transformed(fig.transFigure.inverted())
    fig.add_artist(Line2D([bb.x0, bb.x1], [bb.y0 + 0.001, bb.y0 + 0.001], transform=fig.transFigure,
                          color='#333333', lw=0.6))

fig.savefig('out.png', dpi=100)
